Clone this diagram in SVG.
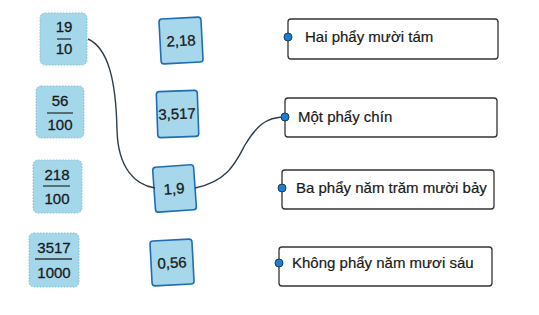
<svg xmlns="http://www.w3.org/2000/svg" width="539" height="315" viewBox="0 0 539 315">
<style>
.frac{fill:#a4d7ea;stroke:#8bbfd2;stroke-width:1;stroke-dasharray:1.5 1.5}
.dec{fill:#a6d7ea;stroke:#1e6db5;stroke-width:1.6}
.lbl{fill:#fff;stroke:#333;stroke-width:1.3}
.num{font-family:"Liberation Sans",Arial,sans-serif;font-size:15px;fill:#1a1a1a;stroke:#1a1a1a;stroke-width:0.3;text-anchor:middle}
.bar{stroke:#333;stroke-width:1.3}
.txt{font-family:"Liberation Sans",Arial,sans-serif;font-size:15px;fill:#1a1a1a;stroke:#1a1a1a;stroke-width:0.2}
.dot{fill:#1b7fd3;stroke:#1a3a5a;stroke-width:1}
.conn{fill:none;stroke:#2e3e4a;stroke-width:1.4}
</style>
<rect width="539" height="315" fill="#fff"/>
<g id="f19_10">
<rect class="frac" x="40" y="13" width="47" height="52" rx="5"/>
<text class="num" x="64" y="32">19</text>
<line class="bar" x1="57" y1="39" x2="71" y2="39"/>
<text class="num" x="64" y="54">10</text>
</g>
<g id="f56_100">
<rect class="frac" x="36" y="86" width="48" height="52" rx="5"/>
<text class="num" x="60" y="106">56</text>
<line class="bar" x1="47" y1="113" x2="73" y2="113"/>
<text class="num" x="60" y="130">100</text>
</g>
<g id="f218_100">
<rect class="frac" x="33" y="160" width="49" height="53" rx="5"/>
<text class="num" x="57" y="180">218</text>
<line class="bar" x1="43" y1="186" x2="70" y2="186"/>
<text class="num" x="57" y="204">100</text>
</g>
<g id="f3517_1000">
<rect class="frac" x="29" y="233" width="50" height="54" rx="5"/>
<text class="num" x="54" y="253">3517</text>
<line class="bar" x1="35" y1="259" x2="72" y2="259"/>
<text class="num" x="54" y="278">1000</text>
</g>
<g id="d2_18" transform="rotate(-3 181 40)">
<rect class="dec" x="160" y="18" width="42" height="45" rx="3"/>
<text class="num" x="181" y="46">2,18</text>
</g>
<g id="d3_517" transform="rotate(-2 177 113)">
<rect class="dec" x="157" y="91" width="41" height="46" rx="3"/>
<text class="num" x="177" y="119">3,517</text>
</g>
<g id="d1_9" transform="rotate(-4 174 188)">
<rect class="dec" x="154" y="166" width="41" height="45" rx="3"/>
<text class="num" x="174" y="194">1,9</text>
</g>
<g id="d0_56" transform="rotate(-3 172 262)">
<rect class="dec" x="151" y="240" width="42" height="45" rx="3"/>
<text class="num" x="172" y="268">0,56</text>
</g>
<g id="connectors">
<path class="conn" d="M88,39 C108,48 116,80 117,130 C118,168 135,185 155,188"/>
<path class="conn" d="M195,188 C228,181 236,162 245,145 C256,127 265,117 285,117"/>
</g>
<g id="l1">
<rect class="lbl" x="288" y="19" width="210" height="40" rx="3"/>
<circle class="dot" cx="288" cy="37" r="4"/>
<text class="txt" x="305" y="42">Hai phẩy mười tám</text>
</g>
<g id="l2">
<rect class="lbl" x="285" y="98" width="212" height="39" rx="3"/>
<circle class="dot" cx="285" cy="117" r="4"/>
<text class="txt" x="298" y="122">Một phẩy chín</text>
</g>
<g id="l3">
<rect class="lbl" x="282" y="170" width="212" height="39" rx="3"/>
<circle class="dot" cx="282" cy="188" r="4"/>
<text class="txt" x="296" y="193">Ba phẩy năm trăm mười bảy</text>
</g>
<g id="l4">
<rect class="lbl" x="279" y="247" width="213" height="39" rx="3"/>
<circle class="dot" cx="279" cy="263" r="4"/>
<text class="txt" x="292" y="268">Không phẩy năm mươi sáu</text>
</g>
</svg>
